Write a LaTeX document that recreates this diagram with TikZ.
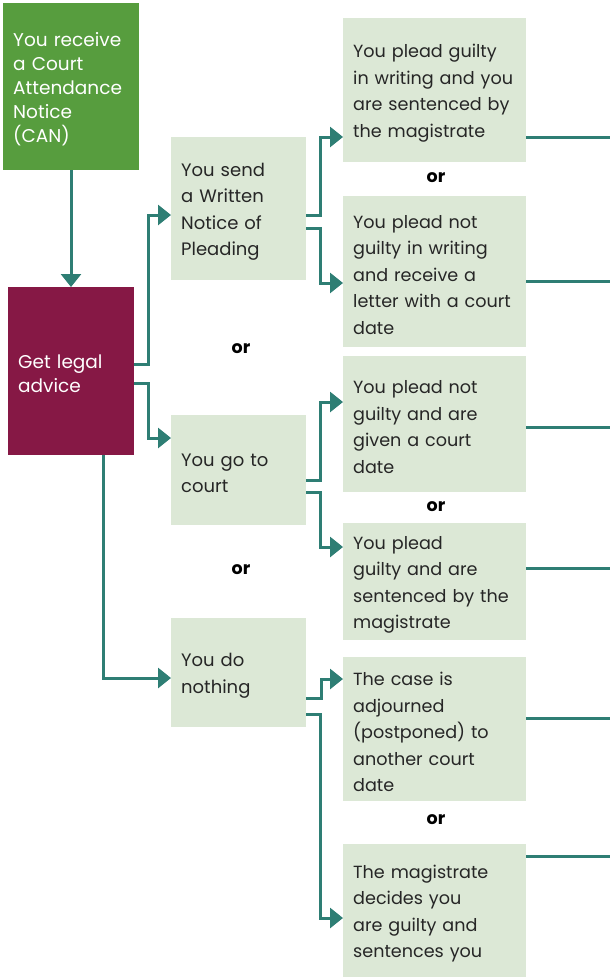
\documentclass[tikz,border=0pt]{standalone}
\usepackage{fontspec}
\setmainfont{Poppins}
\usetikzlibrary{arrows.meta}
\definecolor{cangreen}{RGB}{87,157,62}
\definecolor{advpurple}{RGB}{134,24,69}
\definecolor{boxfill}{RGB}{220,232,214}
\definecolor{teal}{RGB}{46,126,116}
\definecolor{txt}{RGB}{38,38,38}
\newcommand{\topfix}{\rule{0pt}{19pt}}
\tikzset{
  base/.style={anchor=north west, inner xsep=10pt, inner ysep=0pt, align=left},
  leftfont/.style={font=\fontsize{18.5}{24}\selectfont},
  midfont/.style={font=\fontsize{18}{26.5}\selectfont},
  rightfont/.style={font=\fontsize{17.6}{26.5}\selectfont},
  greenbox/.style={base, leftfont, fill=cangreen, text=white},
  purplebox/.style={base, leftfont, fill=advpurple, text=white},
  midbox/.style={base, midfont, fill=boxfill, text=txt},
  rightbox/.style={base, rightfont, fill=boxfill, text=txt},
  orlabel/.style={font=\fontsize{17.5}{20}\selectfont\bfseries, text=black},
  conn/.style={draw=teal, line width=3pt, -{Triangle[length=13pt,width=20pt]}},
  tail/.style={draw=teal, line width=3pt},
}
\begin{document}
\begin{tikzpicture}[x=1pt,y=-1pt]
\useasboundingbox (0,0) rectangle (610,977);
% left column
\node[greenbox, minimum width=136, minimum height=167, text width=116] (can) at (3,3)
  {\topfix You receive\\a Court\\Attendance\\Notice\\(CAN)};
\node[purplebox, minimum width=126, minimum height=168, text width=106] (adv) at (8,287)
  {\topfix Get legal\\advice};
% middle column
\node[midbox, minimum width=135, minimum height=143, text width=115] (send) at (171,137)
  {\topfix You send\\a Written\\Notice of\\Pleading};
\node[midbox, minimum width=135, minimum height=110, text width=115] (court) at (171,415)
  {\topfix You go to\\court};
\node[midbox, minimum width=135, minimum height=109, text width=115] (nothing) at (171,618)
  {\topfix You do\\nothing};
\node[orlabel] (or1) at (241,349) {or};
\node[orlabel] (or2) at (241,570) {or};
% right column
\node[rightbox, minimum width=183, minimum height=144, text width=163] (r1) at (343,18)
  {\topfix You plead guilty\\in writing and you\\are sentenced by\\the magistrate};
\node[rightbox, minimum width=183, minimum height=151, text width=163] (r2) at (343,196)
  {\topfix You plead not\\guilty in writing\\and receive a\\letter with a court\\date};
\node[rightbox, minimum width=183, minimum height=136, text width=163] (r3) at (343,356)
  {\topfix You plead not\\guilty and are\\given a court\\date};
\node[rightbox, minimum width=183, minimum height=117, text width=163] (r4) at (343,523)
  {\topfix You plead\\guilty and are\\sentenced by the\\magistrate};
\node[rightbox, minimum width=183, minimum height=144, text width=163] (r5) at (343,657)
  {\topfix The case is\\adjourned\\(postponed) to\\another court\\date};
\node[rightbox, minimum width=183, minimum height=133, text width=163] (r6) at (343,844)
  {\topfix The magistrate\\decides you\\are guilty and\\sentences you};
\node[orlabel] (or3) at (436,178) {or};
\node[orlabel] (or4) at (436,507) {or};
\node[orlabel] (or5) at (436,820) {or};
% connectors
\draw[conn] (can.south -| 71,0) -- (adv.north -| 71,0);
\draw[conn] (adv.east |- 0,364) -- (148,364) -- (148,215) -- (send.west |- 0,215);
\draw[conn] (adv.east |- 0,383) -- (148,383) -- (148,438) -- (court.west |- 0,438);
\draw[conn] (adv.south -| 103,0) -- (103,678) -- (nothing.west |- 0,678);
\draw[conn] (send.east |- 0,215) -- (320,215) -- (320,137) -- (r1.west |- 0,137);
\draw[conn] (send.east |- 0,228) -- (320,228) -- (320,283) -- (r2.west |- 0,283);
\draw[conn] (court.east |- 0,480) -- (320,480) -- (320,402) -- (r3.west |- 0,402);
\draw[conn] (court.east |- 0,492) -- (320,492) -- (320,547) -- (r4.west |- 0,547);
\draw[conn] (nothing.east |- 0,698) -- (321,698) -- (321,679) -- (r5.west |- 0,679);
\draw[conn] (nothing.east |- 0,714) -- (320,714) -- (320,918) -- (r6.west |- 0,918);
% outgoing lines to the right edge
\coordinate (e1) at (610,137);
\coordinate (e2) at (610,281);
\coordinate (e3) at (610,427);
\coordinate (e4) at (610,568);
\coordinate (e5) at (610,718);
\coordinate (e6) at (610,856);
\draw[tail] (r1.east |- e1) -- (e1);
\draw[tail] (r2.east |- e2) -- (e2);
\draw[tail] (r3.east |- e3) -- (e3);
\draw[tail] (r4.east |- e4) -- (e4);
\draw[tail] (r5.east |- e5) -- (e5);
\draw[tail] (r6.east |- e6) -- (e6);
\end{tikzpicture}
\end{document}
